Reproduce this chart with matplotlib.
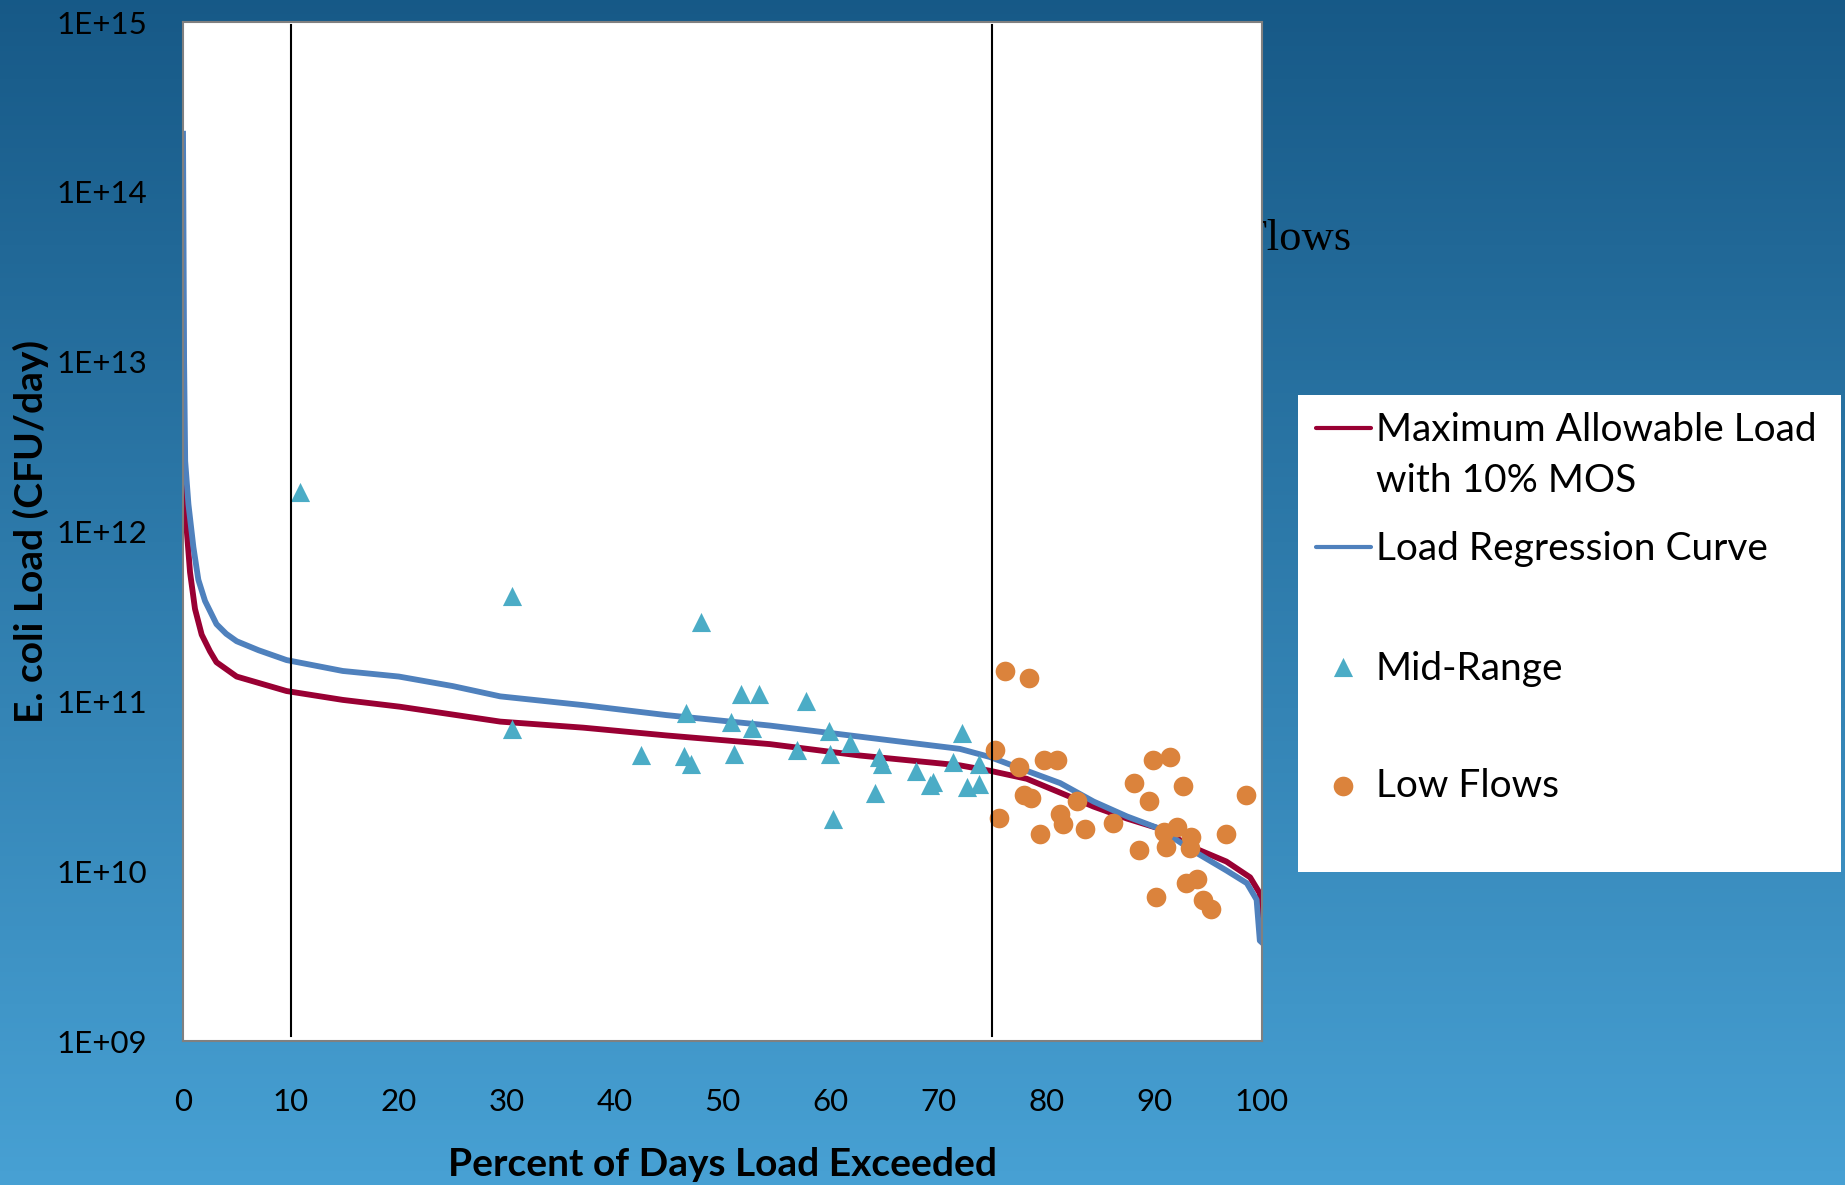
import matplotlib
matplotlib.use("Agg")
import matplotlib.pyplot as plt
import numpy as np
from matplotlib.ticker import FuncFormatter, FixedLocator

plt.rcParams['font.family'] = ['Lato', 'DejaVu Sans']

# load duration curves (percent of days exceeded, load in CFU/day)
mos_pct = [0, 0.05, 0.28, 0.65, 1.11, 1.73, 2.5, 3.1, 4.97, 9.6, 14.8, 20.1, 29.4, 37.1,
           44.8, 54.4, 62.7, 72, 74.8, 78.2, 81.3, 84.4, 87.5, 90.5, 93.6, 96.7, 98.9,
           99.8, 100]
mos_load = [3.5e13, 2.45e12, 1.15e12, 5.75e11, 3.5e11, 2.47e11, 1.97e11, 1.7e11, 1.4e11,
            1.15e11, 1.02e11, 9.3e10, 7.6e10, 7.0e10, 6.3e10, 5.6e10, 4.8e10, 4.2e10,
            3.9e10, 3.5e10, 2.9e10, 2.4e10, 2.04e10, 1.78e10, 1.38e10, 1.14e10, 9.2e9,
            7.4e9, 5.1e9]

reg_pct = [0, 0.1, 0.2, 0.5, 0.96, 1.42, 2.04, 3.1, 4.0, 4.97, 7.0, 9.6, 14.8, 20, 25,
           29.4, 37.1, 44.8, 54.4, 62.7, 72.0, 74.8, 78.2, 81.3, 84.4, 87.5, 90.5, 93.6,
           96.7, 98.6, 99.5, 99.8, 100]
reg_load = [2.2e14, 1.0e13, 2.6e12, 1.45e12, 8.1e11, 5.2e11, 3.9e11, 2.85e11, 2.5e11,
            2.26e11, 2.0e11, 1.75e11, 1.51e11, 1.40e11, 1.23e11, 1.07e11, 9.5e10, 8.3e10,
            7.2e10, 6.2e10, 5.25e10, 4.7e10, 3.9e10, 3.3e10, 2.57e10, 2.1e10, 1.78e10,
            1.32e10, 1.01e10, 8.5e9, 6.8e9, 3.9e9, 3.8e9]

# observed samples
mid_pct = [10.8, 30.5, 30.5, 48.0, 42.4, 46.6, 46.4, 47.1, 51.7, 53.4, 50.8, 52.7, 51.1,
           57.7, 59.9, 61.8, 56.9, 60.0, 64.5, 64.8, 64.1, 60.2, 67.9, 69.5, 69.2, 72.2,
           71.4, 73.8, 72.7, 73.8]
mid_load = [1.71e12, 4.2e11, 6.9e10, 2.94e11, 4.8e10, 8.5e10, 4.75e10, 4.27e10, 1.1e11,
            1.1e11, 7.6e10, 7.0e10, 4.87e10, 1.0e11, 6.7e10, 5.7e10, 5.2e10, 4.9e10, 4.7e10,
            4.3e10, 2.87e10, 2.04e10, 3.9e10, 3.36e10, 3.2e10, 6.5e10, 4.4e10, 4.27e10,
            3.14e10, 3.24e10]

low_pct = [76.2, 78.4, 75.3, 77.5, 79.8, 81.0, 77.9, 78.6, 75.6, 79.4, 82.9, 81.3, 81.6,
           83.6, 86.2, 89.9, 91.5, 88.1, 89.5, 92.7, 98.5, 96.7, 90.9, 92.1, 93.4, 91.1,
           93.3, 88.6, 93.0, 94.0, 90.2, 94.5, 95.3]
low_load = [1.51e11, 1.38e11, 5.2e10, 4.1e10, 4.5e10, 4.5e10, 2.8e10, 2.7e10, 2.07e10,
            1.65e10, 2.6e10, 2.16e10, 1.89e10, 1.77e10, 1.91e10, 4.5e10, 4.7e10, 3.3e10,
            2.6e10, 3.17e10, 2.8e10, 1.65e10, 1.71e10, 1.82e10, 1.6e10, 1.39e10, 1.37e10,
            1.33e10, 8.5e9, 9.0e9, 7.0e9, 6.8e9, 6.0e9]

flow_breaks = [10, 75]
x_ticks = list(range(0, 101, 10))
y_ticks = [1e9, 1e10, 1e11, 1e12, 1e13, 1e14, 1e15]

legend_labels = ["Maximum Allowable Load\nwith 10% MOS", "Load Regression Curve",
                 "Mid-Range", "Low Flows"]

c_mos = '#990033'
c_reg = '#4F81BD'
c_mid = '#4BACC6'
c_low = '#DB833C'

fig = plt.figure(figsize=(18.45, 11.85), dpi=100)

# blue gradient slide background
bg = fig.add_axes([0, 0, 1, 1], zorder=-3)
grad = np.linspace(0, 1, 256).reshape(-1, 1)
top = np.array([0.09, 0.35, 0.53])
bot = np.array([0.28, 0.63, 0.83])
img = top + (bot - top) * grad[:, :, None]
bg.imshow(img, aspect='auto', extent=[0, 1, 0, 1])
bg.set_axis_off()

# partly hidden slide text behind the chart
fig.text(1243 / 1845, 1 - 250 / 1185, "Flows", family=['Liberation Serif'],
         fontsize=32, color='black', zorder=-2)

ax = fig.add_axes([0.0992, 0.1215, 0.5848, 0.8599], zorder=0)
ax.set_facecolor('white')

ax.plot(mos_pct, mos_load, color=c_mos, lw=4.2, zorder=2)
ax.plot(reg_pct, reg_load, color=c_reg, lw=4.2, zorder=2)
ax.scatter(mid_pct, mid_load, marker='^', s=190, color=c_mid, linewidths=0, zorder=3)
ax.scatter(low_pct, low_load, marker='o', s=200, color=c_low, linewidths=0, zorder=3)
for xb in flow_breaks:
    ax.axvline(xb, ymin=0.005, ymax=0.997, color='black', lw=1.5, zorder=5)

ax.set_yscale('log')
ax.set_xlim(0, 100)
ax.set_ylim(1e9, 1e15)
ax.xaxis.set_major_locator(FixedLocator(x_ticks))
ax.yaxis.set_major_locator(FixedLocator(y_ticks))
ax.yaxis.set_minor_locator(FixedLocator([]))
ax.yaxis.set_major_formatter(FuncFormatter(lambda v, p: "1E+%02d" % int(round(np.log10(v)))))
ax.tick_params(axis='both', length=0, labelsize=22.5)
ax.tick_params(axis='x', pad=34)
ax.tick_params(axis='y', pad=26)

for s in ax.spines.values():
    s.set_color('#808080')
    s.set_linewidth(1.5)

ax.set_xlabel("Percent of Days Load Exceeded", fontsize=28, fontweight='bold', labelpad=22)
ax.set_ylabel("E. coli Load (CFU/day)", fontsize=28, fontweight='bold')
ax.yaxis.set_label_coords(-0.124, 0.5)

# legend panel
lg = fig.add_axes([0.7035, 0.2641, 0.2943, 0.4025], zorder=1)
lg.set_facecolor('white')
lg.set_xlim(0, 1)
lg.set_ylim(0, 1)
lg.set_xticks([])
lg.set_yticks([])
for s in lg.spines.values():
    s.set_visible(False)

lg.plot([0.033, 0.134], [0.931, 0.931], color=c_mos, lw=3, solid_capstyle='round')
lg.plot([0.033, 0.134], [0.681, 0.681], color=c_reg, lw=3, solid_capstyle='round')
lg.scatter([0.083], [0.429], marker='^', s=190, color=c_mid, linewidths=0)
lg.scatter([0.083], [0.180], marker='o', s=200, color=c_low, linewidths=0)
text_y = [0.904, 0.654, 0.403, 0.157]
lines_1 = legend_labels[0].split("\n")
lg.text(0.143, 0.904, lines_1[0], fontsize=28, va='baseline')
lg.text(0.143, 0.797, lines_1[1], fontsize=28, va='baseline')
for lab, ty in zip(legend_labels[1:], text_y[1:]):
    lg.text(0.143, ty, lab, fontsize=28, va='baseline')

fig.savefig("out.png", dpi=100)
